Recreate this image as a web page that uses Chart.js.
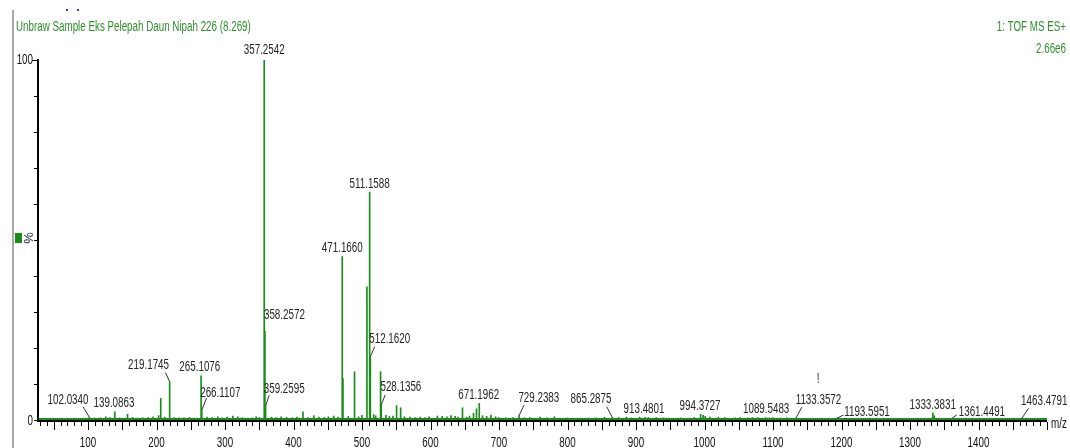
<!DOCTYPE html>
<html>
<head>
<meta charset="utf-8">
<title>Unbraw Sample Eks Pelepah Daun Nipah 226</title>
<script src="https://cdn.jsdelivr.net/npm/chart.js@4.4.1/dist/chart.umd.min.js"></script>
<style>
  html, body { margin: 0; padding: 0; background: #fff; overflow: hidden; }
  canvas { display: block; }
</style>
</head>
<body>
<canvas id="ms" width="1070" height="448"></canvas>
<script>
// ---- spectrum header ----
const sampleTitle = 'Unbraw Sample Eks Pelepah Daun Nipah 226 (8.269)';
const functionName = '1: TOF MS ES+';
const basePeakIntensity = '2.66e6';
const axisUnit = 'm/z';
const yAxisUnit = '%';

// ---- axis ranges / ticks ----
const mzMin = 27;
const mzMax = 1500;
const mzMinorStep = 10;
const mzMajorStep = 50;
const mzLabelStep = 100;
const relMin = 0;
const relMax = 100;
const relTickStep = 10;
const relTickLabels = [0, 100];

// ---- annotated peaks (m/z, relative intensity %) ----
const labeledMz = [
  102.0340, 139.0863, 219.1745, 265.1076, 266.1107, 357.2542, 358.2572,
  359.2595, 471.1660, 511.1588, 512.1620, 528.1356, 671.1962, 729.2383,
  865.2875, 913.4801, 994.3727, 1089.5483, 1133.3572, 1193.5951,
  1333.3831, 1361.4491, 1463.4791
];
const labeledIntensity = [
  0.75, 2.3, 10.6, 12.3, 2.8, 100, 24.7,
  3.9, 45.4, 63.3, 17.6, 4.2, 4.6, 1.2,
  0.75, 0.7, 1.6, 0.7, 0.5, 0.5,
  2.0, 0.5, 0.5
];

// ---- other (unannotated) peaks ----
const otherMz = [
  110, 118, 126, 132, 146, 157.7, 165, 172, 180, 188, 195, 203, 206.2,
  212, 226, 233, 240, 248, 255, 274, 281, 289.5, 296, 303, 311.4, 318.7,
  325, 333, 340, 345.5, 350, 368, 375, 382, 390, 398, 405, 413.9, 421,
  429.5, 437, 445, 451, 458.7, 465, 472.17, 480, 489.1, 495, 500, 507.2,
  517, 520, 527.1, 535, 540, 545, 550.5, 556.4, 562, 570, 578, 585, 592,
  598, 610, 617, 624, 630, 636, 640, 646.7, 653, 657, 662.8, 667.2, 676,
  682, 688.1, 695, 700, 710, 720, 737, 745, 752, 760, 770, 780.8, 790,
  800, 815, 830, 842, 854, 875, 886, 893, 905.3, 918, 929.7, 940, 955,
  965, 975, 985, 998, 1001, 1008, 1020, 1030, 1045, 1052, 1063, 1070,
  1078, 1095, 1100, 1110, 1120, 1335.4
];
const otherIntensity = [
  0.5, 0.6, 0.9, 0.7, 0.6, 1.6, 0.7, 0.5, 0.6, 0.7, 0.9, 1.2, 6.0,
  0.8, 0.7, 0.6, 0.6, 0.7, 0.5, 0.8, 0.7, 0.9, 0.6, 0.8, 1.1, 0.9,
  0.6, 0.5, 0.6, 0.9, 0.7, 0.8, 0.7, 0.9, 0.7, 0.6, 0.8, 2.3, 0.7,
  1.2, 0.8, 0.7, 0.9, 1.1, 0.8, 11.5, 1.0, 13.4, 0.9, 1.3, 37.0,
  1.5, 1.2, 13.4, 1.3, 1.0, 1.1, 4.0, 3.4, 0.9, 0.8, 0.7, 0.8, 0.7,
  0.9, 1.1, 1.0, 0.9, 1.2, 1.0, 0.8, 3.4, 0.8, 1.1, 1.9, 3.1, 1.2,
  1.0, 1.4, 0.9, 0.7, 0.6, 0.7, 0.6, 0.7, 0.5, 0.8, 0.6, 0.9, 0.5,
  0.6, 0.5, 0.5, 0.6, 0.8, 0.7, 0.8, 0.6, 0.8, 0.7, 0.7, 0.6, 0.5,
  0.6, 0.5, 0.7, 1.3, 1.0, 0.8, 0.8, 0.7, 0.6, 0.7, 0.6, 0.7,
  0.7, 0.6, 0.7, 0.5, 0.6, 1.2
];

// ---- label placement: [dx, dy] of label anchor from the peak apex,
//      optional [lx, ly] start of a leader line drawn to the apex ----
const labelLayout = [
  [-21.4, -13.3, -6.4, -10.6],
  [-0.8, -4.4],
  [-21.1, -12.7, -4.2, -9.4],
  [-1.3, -5],
  [18.5, -13.3, 4.7, -11.7],
  [0, -6],
  [19.5, -12.5],
  [18.6, -13.3, 3.6, -10.7],
  [0, -4.5],
  [0, -4.5],
  [19.4, -13.4, 4.4, -10],
  [19.6, -14, 3.9, -10],
  [-0.6, -4],
  [19.8, -14, 5.1, -10.7],
  [-21.2, -14, -5.5, -10.6],
  [-1.2, -4.2],
  [-0.6, -4],
  [0.3, -4.2],
  [22.6, -14.3, 6, -11],
  [29.9, -2.3, 6.5, -3.3],
  [-0.2, -4],
  [29.8, -2.3, 4.8, -3.3],
  [22.3, -13.3, 6.6, -10]
];

// ---- styling ----
const GREEN = '#1a8c1a';
const HEADER_GREEN = '#2e8f2e';
const INK = '#262626';
const FONT = '14px "Liberation Sans", Arial, sans-serif';
const NARROW = 0.7;   // condensed instrument font

function drawText(ctx, s, x, y, align, color) {
  ctx.save();
  ctx.translate(x, y);
  ctx.scale(NARROW, 1);
  ctx.font = FONT;
  ctx.fillStyle = color;
  ctx.textAlign = align;
  ctx.textBaseline = 'alphabetic';
  ctx.fillText(s, 0, 0);
  ctx.restore();
}

// combine and sort peaks for the stick plot
const peaks = labeledMz.map((m, i) => ({ x: m, y: labeledIntensity[i] }))
  .concat(otherMz.map((m, i) => ({ x: m, y: otherIntensity[i] })))
  .sort((a, b) => a.x - b.x);

const spectrumFrame = {
  id: 'spectrumFrame',
  beforeDatasetsDraw(chart) {
    const { ctx, chartArea: a, scales: { x, y } } = chart;
    ctx.save();
    // noise floor band along the baseline
    ctx.fillStyle = GREEN;
    const y0 = y.getPixelForValue(0);
    ctx.fillRect(x.getPixelForValue(mzMin), y0 - 2, x.getPixelForValue(mzMax) - x.getPixelForValue(mzMin), 2);
    ctx.restore();
  },
  afterDraw(chart) {
    const { ctx, chartArea: a, scales: { x, y } } = chart;
    ctx.save();

    // page frame line on the left
    ctx.fillStyle = '#a8a8a8';
    ctx.fillRect(12, 10, 2, 438);
    // small marks at top
    ctx.fillStyle = '#2b3bd6';
    ctx.fillRect(66, 9, 2, 2);
    ctx.fillRect(77, 9, 2, 2);

    // axes
    const x0 = x.getPixelForValue(mzMin);
    const x1 = x.getPixelForValue(mzMax);
    const yb = y.getPixelForValue(relMin);
    const yt = y.getPixelForValue(relMax);
    ctx.fillStyle = '#000';
    ctx.fillRect(x0 - 1, yt - 1, 2, yb - yt + 3);
    ctx.fillRect(x0 - 1, yb, x1 - x0 + 1, 2);

    // x ticks
    ctx.strokeStyle = '#000';
    ctx.lineWidth = 1;
    ctx.beginPath();
    for (let v = Math.ceil(mzMin / mzMinorStep) * mzMinorStep; v <= mzMax; v += mzMinorStep) {
      const px = Math.round(x.getPixelForValue(v)) + 0.5;
      const len = v % mzMajorStep === 0 ? 8 : 4;
      ctx.moveTo(px, yb + 2);
      ctx.lineTo(px, yb + 2 + len);
    }
    // y ticks
    for (let v = relMin; v <= relMax; v += relTickStep) {
      const py = Math.round(y.getPixelForValue(v)) + 0.5;
      const len = v === relMax ? 5 : 3;
      ctx.moveTo(x0 - 1 - len, py);
      ctx.lineTo(x0 - 1, py);
    }
    ctx.stroke();

    // x tick labels
    for (let v = Math.ceil(mzMin / mzLabelStep) * mzLabelStep; v <= mzMax; v += mzLabelStep) {
      if (v === 1500) continue;
      drawText(ctx, String(v), x.getPixelForValue(v), yb + 27, 'center', '#111');
    }
    // y tick labels
    relTickLabels.forEach(v => {
      const py = y.getPixelForValue(v);
      drawText(ctx, String(v), x0 - 5, py + (v === relMax ? 4 : 5), 'right', '#111');
    });

    // y axis unit with marker
    ctx.fillStyle = GREEN;
    ctx.fillRect(15, 233, 7, 10);
    ctx.save();
    ctx.translate(33, 238);
    ctx.rotate(-Math.PI / 2);
    ctx.font = '13px "Liberation Sans", Arial, sans-serif';
    ctx.fillStyle = '#1c2340';
    ctx.textAlign = 'center';
    ctx.textBaseline = 'alphabetic';
    ctx.fillText(yAxisUnit, 0, 0);
    ctx.restore();

    // x axis unit
    drawText(ctx, axisUnit, x1 + 4, yb + 8, 'left', '#111');

    // header
    drawText(ctx, sampleTitle, 16, 31, 'left', HEADER_GREEN);
    drawText(ctx, functionName, 1066, 31, 'right', HEADER_GREEN);
    drawText(ctx, basePeakIntensity, 1066, 53, 'right', HEADER_GREEN);

    // peak annotations
    ctx.strokeStyle = '#333';
    ctx.lineWidth = 1;
    labeledMz.forEach((m, i) => {
      const px = x.getPixelForValue(m);
      const py = y.getPixelForValue(labeledIntensity[i]);
      const L = labelLayout[i];
      drawText(ctx, m.toFixed(4), px + L[0], py + L[1], 'center', INK);
      if (L.length > 2) {
        ctx.beginPath();
        ctx.moveTo(px + L[2], py + L[3]);
        ctx.lineTo(px, py);
        ctx.stroke();
      }
    });
    // stray marker above the 1133 region
    drawText(ctx, '!', x.getPixelForValue(1166), 383, 'center', INK);

    ctx.restore();
  }
};

new Chart(document.getElementById('ms'), {
  type: 'bar',
  data: {
    datasets: [{
      label: 'TOF MS ES+',
      data: peaks,
      backgroundColor: GREEN,
      borderWidth: 0,
      barThickness: 1,
      grouped: false
    }]
  },
  options: {
    responsive: false,
    animation: false,
    devicePixelRatio: 1,
    layout: { padding: { left: 38, right: 23, top: 60, bottom: 28 } },
    plugins: { legend: { display: false }, tooltip: { enabled: false } },
    scales: {
      x: { type: 'linear', min: mzMin, max: mzMax, offset: false, display: false },
      y: { type: 'linear', min: relMin, max: relMax, display: false }
    }
  },
  plugins: [spectrumFrame]
});
</script>
</body>
</html>
